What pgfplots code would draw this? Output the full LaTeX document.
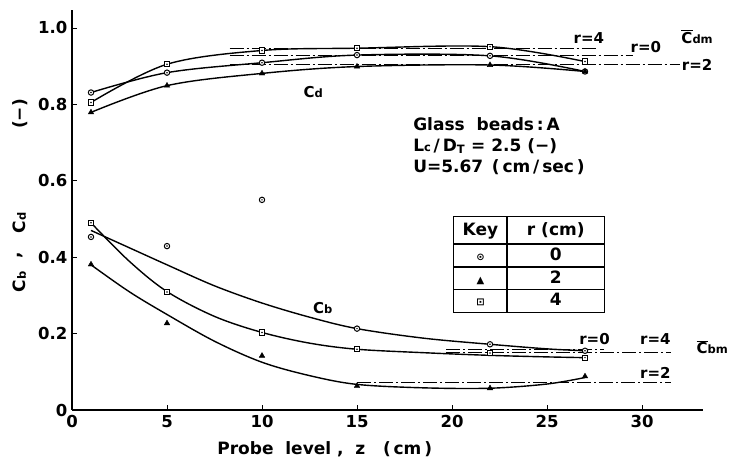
\documentclass[border=0pt]{standalone}
\usepackage{pgfplots}
\pgfplotsset{compat=1.18}
\usepackage{pgfplotstable}
\usepackage{fontspec}
\usepackage{array}
\setmainfont{DejaVu Sans}

\pgfdeclareplotmark{odot}{%
  \pgfsetfillcolor{white}%
  \pgfpathcircle{\pgfpointorigin}{\pgfplotmarksize}\pgfusepathqfillstroke
  \pgfsetfillcolor{black}%
  \pgfpathcircle{\pgfpointorigin}{0.32\pgfplotmarksize}\pgfusepathqfill}
\pgfdeclareplotmark{sqdot}{%
  \pgfsetfillcolor{white}%
  \pgfpathrectangle{\pgfpoint{-\pgfplotmarksize}{-\pgfplotmarksize}}{\pgfpoint{2\pgfplotmarksize}{2\pgfplotmarksize}}\pgfusepathqfillstroke
  \pgfsetfillcolor{black}%
  \pgfpathcircle{\pgfpointorigin}{0.32\pgfplotmarksize}\pgfusepathqfill}

% measured points, C_d
\pgfplotstableread{
z c0 c2 c4
1 0.831 0.779 0.805
5 0.883 0.849 0.905
10 0.909 0.881 0.941
15 0.929 0.899 0.947
22 0.927 0.903 0.951
27 0.886 0.886 0.912
}\Cd
% measured points, C_b
\pgfplotstableread{
z c0 c2 c4
1 0.453 0.381 0.490
5 0.429 0.227 0.309
10 0.550 0.142 0.203
15 0.213 0.063 0.159
22 0.172 0.057 0.149
27 0.155 0.088 0.137
}\Cb
% fitted curves, C_b
\pgfplotstableread{
z b0 b2 b4
1 0.470 0.380 0.490
3 0.425 0.310 0.390
5 0.380 0.250 0.310
7.5 0.325 0.180 0.245
10 0.280 0.125 0.203
12.5 0.243 0.090 0.175
15 0.213 0.067 0.159
18.5 0.188 0.058 0.150
22 0.172 0.057 0.143
25 0.160 0.068 0.139
27 0.155 0.085 0.137
}\CbFit

\newcommand\sub[1]{{\fontsize{11.5}{12}\selectfont #1}}
\newcommand\barC{$\overline{\hbox{C}}$}

\begin{document}
\begin{tikzpicture}
\useasboundingbox (0,0) rectangle (730pt,462pt);
\begin{axis}[
  at={(72pt,52pt)}, anchor=south west,
  scale only axis, width=630.8pt, height=400pt,
  xmin=0, xmax=33.2, ymin=0, ymax=1.047,
  axis x line=bottom, axis y line=left,
  axis line style={line width=1.4pt,-},
  xtick={0,5,10,15,20,25,30}, xticklabels={0,5,10,15,20,25,30},
  ytick={0,0.2,0.4,0.6,0.8,1.0}, yticklabels={0,0.2,0.4,0.6,0.8,1.0},
  tick align=inside, major tick length=5pt,
  tick style={line width=0.8pt, black},
  ticklabel style={font=\fontsize{16.5}{16.5}\selectfont\bfseries},
  xticklabel style={yshift=-2pt},
  yticklabel style={xshift=-1pt},
  clip=false,
]
% Cd fitted curves through points
\addplot[line width=1.4pt, smooth, tension=0.55] table[x=z,y=c4]{\Cd};
\addplot[line width=1.4pt, smooth, tension=0.55] table[x=z,y=c0]{\Cd};
\addplot[line width=1.4pt, smooth, tension=0.55] table[x=z,y=c2]{\Cd};
% Cb fitted curves
\addplot[line width=1.4pt, smooth, tension=0.55] table[x=z,y=b0]{\CbFit};
\addplot[line width=1.4pt, smooth, tension=0.55] table[x=z,y=b2]{\CbFit};
\addplot[line width=1.4pt, smooth, tension=0.55] table[x=z,y=b4]{\CbFit};
% mean lines
\addplot[line width=1.1pt, dash pattern=on 14pt off 3pt on 2pt off 3pt] coordinates {(8.3,0.947) (27.6,0.947)};
\addplot[line width=1.1pt, dash pattern=on 14pt off 3pt on 2pt off 3pt] coordinates {(8.3,0.929) (29.5,0.929)};
\addplot[line width=1.1pt, dash pattern=on 14pt off 3pt on 2pt off 3pt] coordinates {(8.3,0.905) (32.0,0.905)};
\addplot[line width=1.1pt, dash pattern=on 14pt off 3pt on 2pt off 3pt] coordinates {(19.7,0.158) (28.0,0.158)};
\addplot[line width=1.1pt, dash pattern=on 14pt off 3pt on 2pt off 3pt] coordinates {(19.7,0.150) (31.5,0.150)};
\addplot[line width=1.1pt, dash pattern=on 14pt off 3pt on 2pt off 3pt] coordinates {(15.0,0.071) (31.5,0.071)};
% markers
\addplot[only marks, mark=odot, mark size=2.7pt, mark options={line width=1pt}] table[x=z,y=c0]{\Cd};
\addplot[only marks, mark=triangle*, mark size=3.2pt, mark options={fill=black}] table[x=z,y=c2]{\Cd};
\addplot[only marks, mark=sqdot, mark size=2.6pt, mark options={line width=1pt}] table[x=z,y=c4]{\Cd};
\addplot[only marks, mark=odot, mark size=2.7pt, mark options={line width=1pt}] table[x=z,y=c0]{\Cb};
\addplot[only marks, mark=triangle*, mark size=3.2pt, mark options={fill=black}] table[x=z,y=c2]{\Cb};
\addplot[only marks, mark=sqdot, mark size=2.6pt, mark options={line width=1pt}] table[x=z,y=c4]{\Cb};

% labels
\begin{scope}[every node/.style={font=\fontsize{15}{15}\selectfont\bfseries, inner sep=0pt}]
\node at (axis cs:27.2,0.973) {r=4};
\node at (axis cs:30.2,0.951) {r=0};
\node at (axis cs:32.9,0.977) {\barC\sub{dm}};
\node at (axis cs:32.9,0.903) {r=2};
\node at (axis cs:27.5,0.186) {r=0};
\node at (axis cs:30.7,0.186) {r=4};
\node at (axis cs:33.7,0.164) {\barC\sub{bm}};
\node at (axis cs:30.7,0.096) {r=2};
\node at (axis cs:12.7,0.831) {C\sub{d}};
\node at (axis cs:13.2,0.268) {C\sub{b}};
\end{scope}
\begin{scope}[every node/.style={font=\fontsize{17}{17}\selectfont\bfseries, inner sep=0pt}]
\node[anchor=west] at (axis cs:17.95,0.749) {Glass\ \ beads\,:\,A};
\node[anchor=west] at (axis cs:17.95,0.691) {L\sub{c}\,/\,D$_{\hbox{\sub{T}}}$ = 2.5 (−)};
\node[anchor=west] at (axis cs:17.95,0.636) {U=5.67 \,(\,cm\,/\,sec\,)};
\node at (axis cs:13.3,-0.102) {Probe\ \ level\ ,\ \ z\ \ \ (\,cm\,)};
\node[rotate=90] at (axis cs:-2.75,0.335) {C\sub{b}};
\node[rotate=90] at (axis cs:-2.75,0.405) {,};
\node[rotate=90] at (axis cs:-2.75,0.490) {C\sub{d}};
\node[rotate=90] at (axis cs:-2.75,0.775) {(−)};
\node[anchor=north west] at (axis cs:20.05,0.508) {%
  \setlength\arrayrulewidth{1.3pt}\setlength\tabcolsep{0pt}%
  \begin{tabular}{|>{\centering\arraybackslash}p{52pt}|>{\centering\arraybackslash}p{96pt}|}\hline
  \rule[-8pt]{0pt}{26pt}Key & r (cm)\\\hline
  \rule[-6pt]{0pt}{21.5pt}{\fontsize{10}{10}\selectfont ⊙} & 0\\\hline
  \rule[-6pt]{0pt}{21.5pt}{\fontsize{10}{10}\selectfont ▲} & 2\\\hline
  \rule[-6pt]{0pt}{21.5pt}{\fontsize{10}{10}\selectfont ⊡} & 4\\\hline
  \end{tabular}};
\end{scope}
\end{axis}
\end{tikzpicture}
\end{document}
